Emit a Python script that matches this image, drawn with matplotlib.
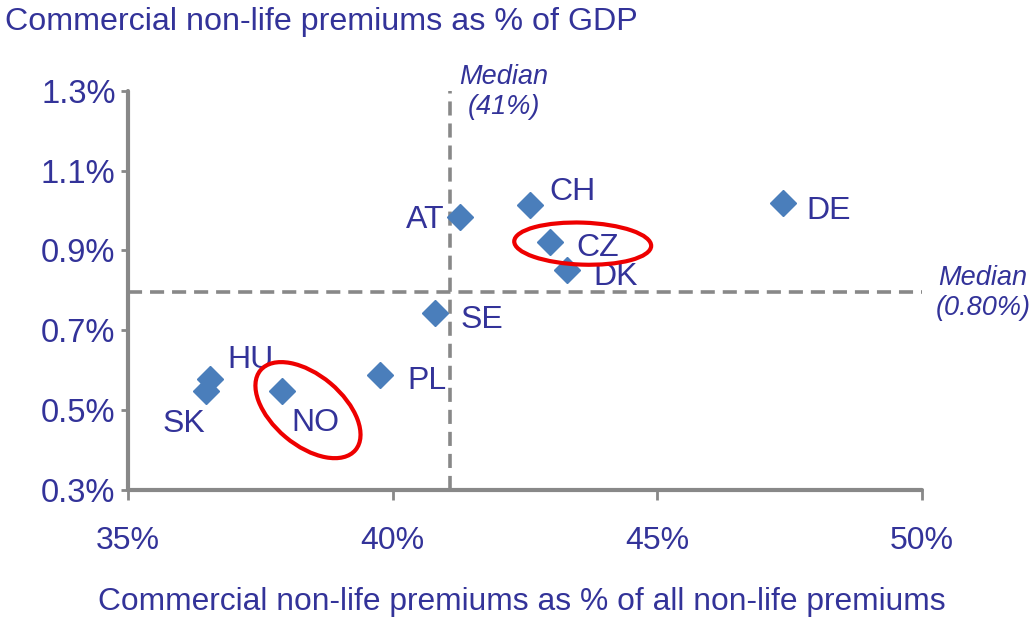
import matplotlib
matplotlib.use("Agg")
import matplotlib.pyplot as plt
from matplotlib.patches import Ellipse
from matplotlib.transforms import ScaledTranslation

plt.rcParams['font.family'] = ['Liberation Sans', 'DejaVu Sans']

countries = ["AT", "CH", "CZ", "DK", "DE", "SE", "PL", "NO", "HU", "SK"]
share_nonlife = [41.27, 42.59, 42.98, 43.29, 47.37, 40.80, 39.76, 37.91, 36.55, 36.47]
pct_gdp = [0.984, 1.014, 0.921, 0.851, 1.019, 0.743, 0.588, 0.548, 0.578, 0.548]
# label offsets in points (dx, dy)
label_offsets = {"AT": (-25, -2), "CH": (31, 9), "CZ": (34, -4), "DK": (35, -5),
                 "DE": (33, -6), "SE": (34, -5), "PL": (34, -4), "NO": (24, -23),
                 "HU": (29, 14), "SK": (-16, -24)}
median_x = 41.08
median_y = 0.795
xticks = [35, 40, 45, 50]
xtick_labels = ["35%", "40%", "45%", "50%"]
yticks = [0.3, 0.5, 0.7, 0.9, 1.1, 1.3]
ytick_labels = ["0.3%", "0.5%", "0.7%", "0.9%", "1.1%", "1.3%"]

TXT = '#333399'
GRAY = '#888888'
BLUE = '#4A7EBB'

fig = plt.figure(figsize=(10.32, 6.17), dpi=100)
ax = fig.add_axes([128/1032, 1-490/617, (922-128)/1032, (490-90.7)/617])
ax.set_xlim(35, 50)
ax.set_ylim(0.3, 1.3)

for s in ['top', 'right']:
    ax.spines[s].set_visible(False)
for s in ['left', 'bottom']:
    ax.spines[s].set_color(GRAY)
    ax.spines[s].set_linewidth(3.0)
    ax.spines[s].set_capstyle('round')

ax.set_xticks(xticks)
ax.set_xticklabels(xtick_labels)
ax.set_yticks(yticks)
ax.set_yticklabels(ytick_labels)
ax.tick_params(axis='x', length=7, width=2.0, color=GRAY, labelsize=23, labelcolor=TXT, pad=19)
ax.tick_params(axis='y', length=5, width=2.0, color=GRAY, labelsize=23.5, labelcolor=TXT, pad=4)

lw = 2.6
ax.axvline(median_x, color=GRAY, lw=lw, dashes=(3.9, 2.2), zorder=1)
ax.axhline(median_y, color=GRAY, lw=lw, dashes=(3.9, 2.2), zorder=1)

ax.plot(share_nonlife, pct_gdp, linestyle='none', marker='D', markersize=13.5,
        color=BLUE, markeredgecolor=BLUE, zorder=3, clip_on=False)

for c, x, y in zip(countries, share_nonlife, pct_gdp):
    dx, dy = label_offsets[c]
    ax.annotate(c, (x, y), xytext=(dx, dy), textcoords='offset points',
                ha='center', va='center', fontsize=23, color=TXT, zorder=4)

# highlight ellipses (center in data coords, size in inches)
def hl_ellipse(cx, cy, w_px, h_px, angle):
    tr = fig.dpi_scale_trans + ScaledTranslation(cx, cy, ax.transData)
    e = Ellipse((0, 0), w_px/100, h_px/100, angle=angle, transform=tr,
                fill=False, edgecolor='#EE0000', lw=3, zorder=5, clip_on=False)
    ax.add_patch(e)

hl_ellipse(38.40, 0.50, 124, 70, -40)
hl_ellipse(43.59, 0.917, 137, 42, -2)

ax.text(42.10, 1.297, "Median\n(41%)", ha='center', va='center', fontsize=19.5,
        style='italic', color=TXT, linespacing=1.2, clip_on=False)
ax.text(51.15, median_y - 0.002, "Median\n(0.80%)", ha='center', va='center', fontsize=19.5,
        style='italic', color=TXT, linespacing=1.2, clip_on=False)

fig.text(5/1032, 1-22/617, "Commercial non-life premiums as % of GDP", ha='left', va='center',
         fontsize=23.2, color=TXT)
fig.text(522/1032, 1-602/617, "Commercial non-life premiums as % of all non-life premiums",
         ha='center', va='center', fontsize=22.9, color=TXT)

fig.savefig("out.png", dpi=100)
